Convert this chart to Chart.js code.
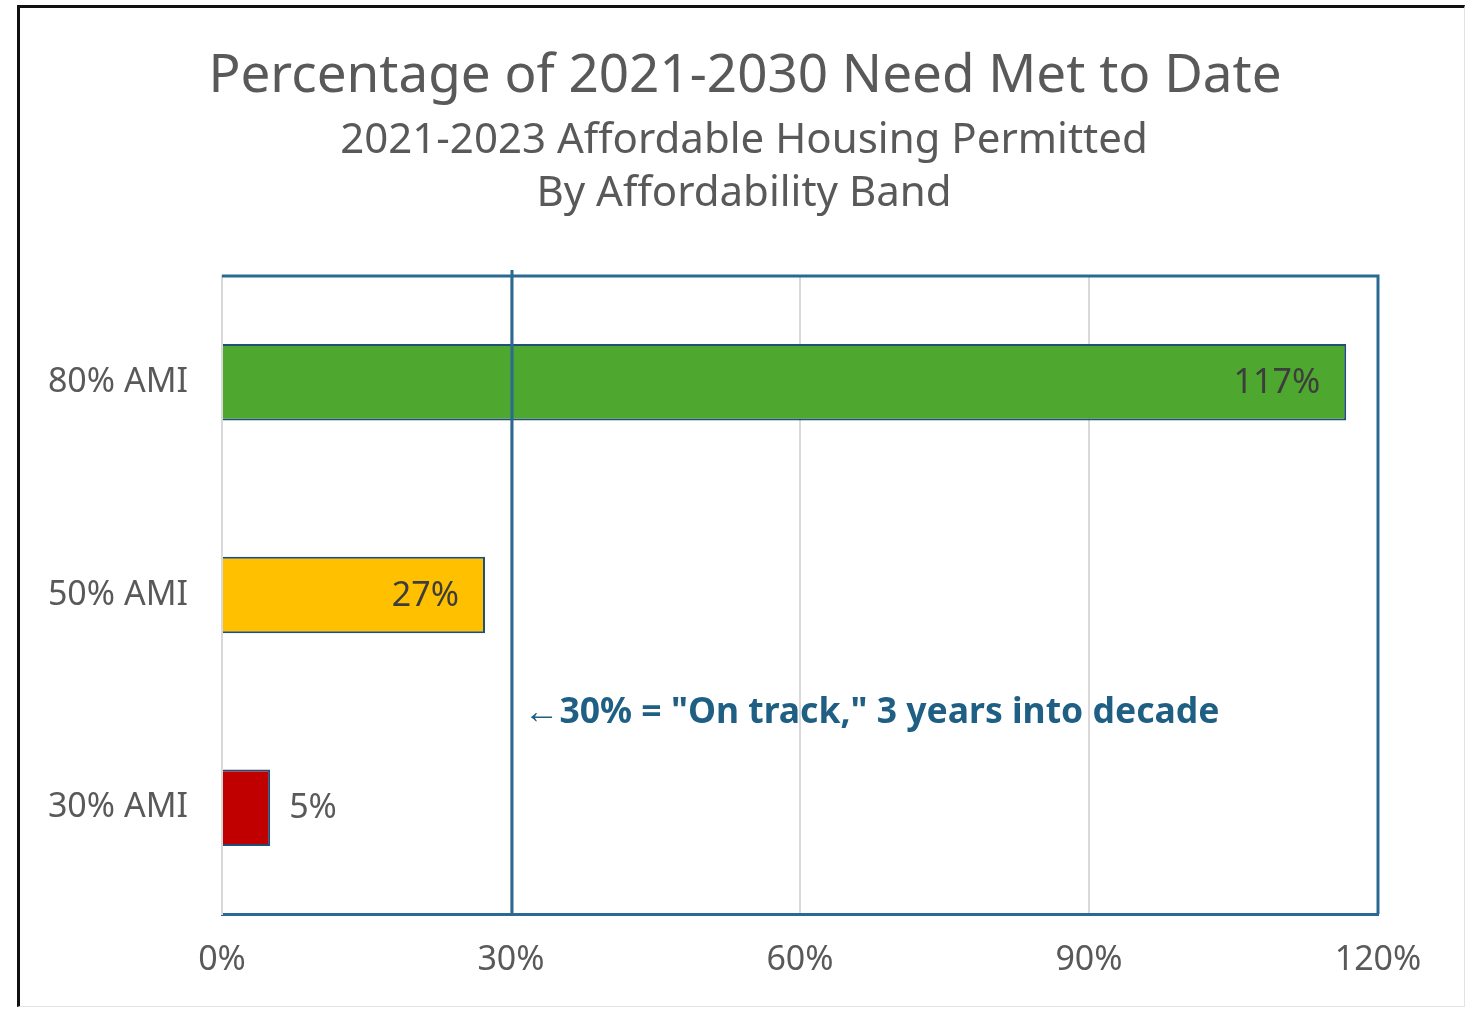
<!DOCTYPE html>
<html>
<head>
<meta charset="utf-8">
<script src="https://cdn.jsdelivr.net/npm/chart.js@4"></script>
<style>
  html, body { margin: 0; padding: 0; background: #fff; }
  .frame {
    position: absolute;
    left: 17px; top: 5px;
    width: 1448px; height: 1002px;
    border-left: 3px solid #111;
    border-top: 3px solid #111;
    border-right: 1px solid #e3e3e3;
    border-bottom: 1px solid #e3e3e3;
    box-sizing: border-box;
  }
  #chart { position: absolute; left: 0; top: 0; }
</style>
</head>
<body>
<div class="frame"></div>
<canvas id="chart" width="1468" height="1010"></canvas>
<script>
const categories = ["80% AMI", "50% AMI", "30% AMI"];
const percentMet = [116.7, 27.3, 5];
const barColors = ["#4ea72e", "#ffc000", "#c00000"];
const xTicks = [0, 30, 60, 90, 120];
const onTrack = 30;
const titleLines = ["Percentage of 2021-2030 Need Met to Date"];
const subtitleLines = ["2021-2023 Affordable Housing Permitted", "By Affordability Band"];
const noteText = "\u2190" + "30% = \"On track,\" 3 years into decade";

const FONT = "'Noto Sans', sans-serif";
const GRAY = "#595959";
const BLUE = "#2a6a92";

// titles, frame, on-track line, value labels
const decorations = {
  id: "decorations",
  beforeDraw(chart) {
    const ctx = chart.ctx;
    ctx.save();
    ctx.fillStyle = GRAY;
    ctx.textAlign = "center";
    ctx.textBaseline = "middle";
    ctx.font = "53px " + FONT;
    ctx.fillText(titleLines[0], 745, 77);
    ctx.font = "42px " + FONT;
    ctx.fillText(subtitleLines[0], 744, 141);
    ctx.fillText(subtitleLines[1], 744, 194);
    ctx.restore();
  },
  afterDatasetsDraw(chart) {
    const ctx = chart.ctx;
    const area = chart.chartArea;
    const x = chart.scales.x;
    const y = chart.scales.y;
    ctx.save();

    // frame top/right
    ctx.strokeStyle = BLUE;
    ctx.lineWidth = 3;
    ctx.beginPath();
    ctx.moveTo(area.left, area.top);
    ctx.lineTo(area.right, area.top);
    ctx.lineTo(area.right, area.bottom);
    ctx.stroke();

    // on-track line
    const xt = x.getPixelForValue(onTrack) + 1;
    ctx.beginPath();
    ctx.moveTo(xt, area.top - 6);
    ctx.lineTo(xt, area.bottom);
    ctx.stroke();

    // value labels
    const meta = chart.getDatasetMeta(0);
    ctx.font = "34px " + FONT;
    ctx.textBaseline = "middle";
    meta.data.forEach((bar, i) => {
      const label = Math.round(percentMet[i]) + "%";
      const w = ctx.measureText(label).width;
      const inside = (bar.x - bar.base) > w + 60;
      if (inside) {
        ctx.fillStyle = "#3d3d3d";
        ctx.textAlign = "right";
        ctx.fillText(label, bar.x - 26, bar.y + 1);
      } else {
        ctx.fillStyle = GRAY;
        ctx.textAlign = "left";
        ctx.fillText(label, bar.x + 19, bar.y + 1);
      }
    });

    // note
    ctx.font = "bold 35.5px " + FONT;
    ctx.fillStyle = "#1f5f84";
    ctx.textAlign = "left";
    ctx.fillText(noteText, xt + 12, y.getPixelForValue(1) + (y.getPixelForValue(2) - y.getPixelForValue(1)) * 0.555);
    ctx.restore();
  }
};

new Chart(document.getElementById("chart"), {
  type: "bar",
  data: {
    labels: categories,
    datasets: [{
      data: percentMet,
      backgroundColor: barColors,
      borderColor: "#1f4e79",
      borderWidth: 2,
      categoryPercentage: 1,
      barPercentage: 0.36
    }]
  },
  options: {
    indexAxis: "y",
    responsive: false,
    animation: false,
    layout: { padding: { top: 276, right: 90, bottom: 0, left: 0 } },
    plugins: {
      legend: { display: false },
      tooltip: { enabled: false }
    },
    scales: {
      x: {
        min: 0,
        max: 120,
        afterBuildTicks(scale) {
          scale.ticks = xTicks.map(v => ({ value: v }));
        },
        afterFit(scale) { scale.height = 96; },
        grid: { color: "#d9d9d9", lineWidth: 2, drawTicks: false },
        border: { color: BLUE, width: 3 },
        ticks: {
          padding: 26,
          color: GRAY,
          font: { family: FONT, size: 34 },
          callback: v => v + "%"
        }
      },
      y: {
        afterFit(scale) { scale.width = 222; },
        grid: { display: false, drawTicks: false },
        border: { color: "#d9d9d9", width: 2 },
        ticks: {
          padding: 34,
          color: GRAY,
          font: { family: FONT, size: 34 }
        }
      }
    }
  },
  plugins: [decorations]
});
</script>
</body>
</html>
